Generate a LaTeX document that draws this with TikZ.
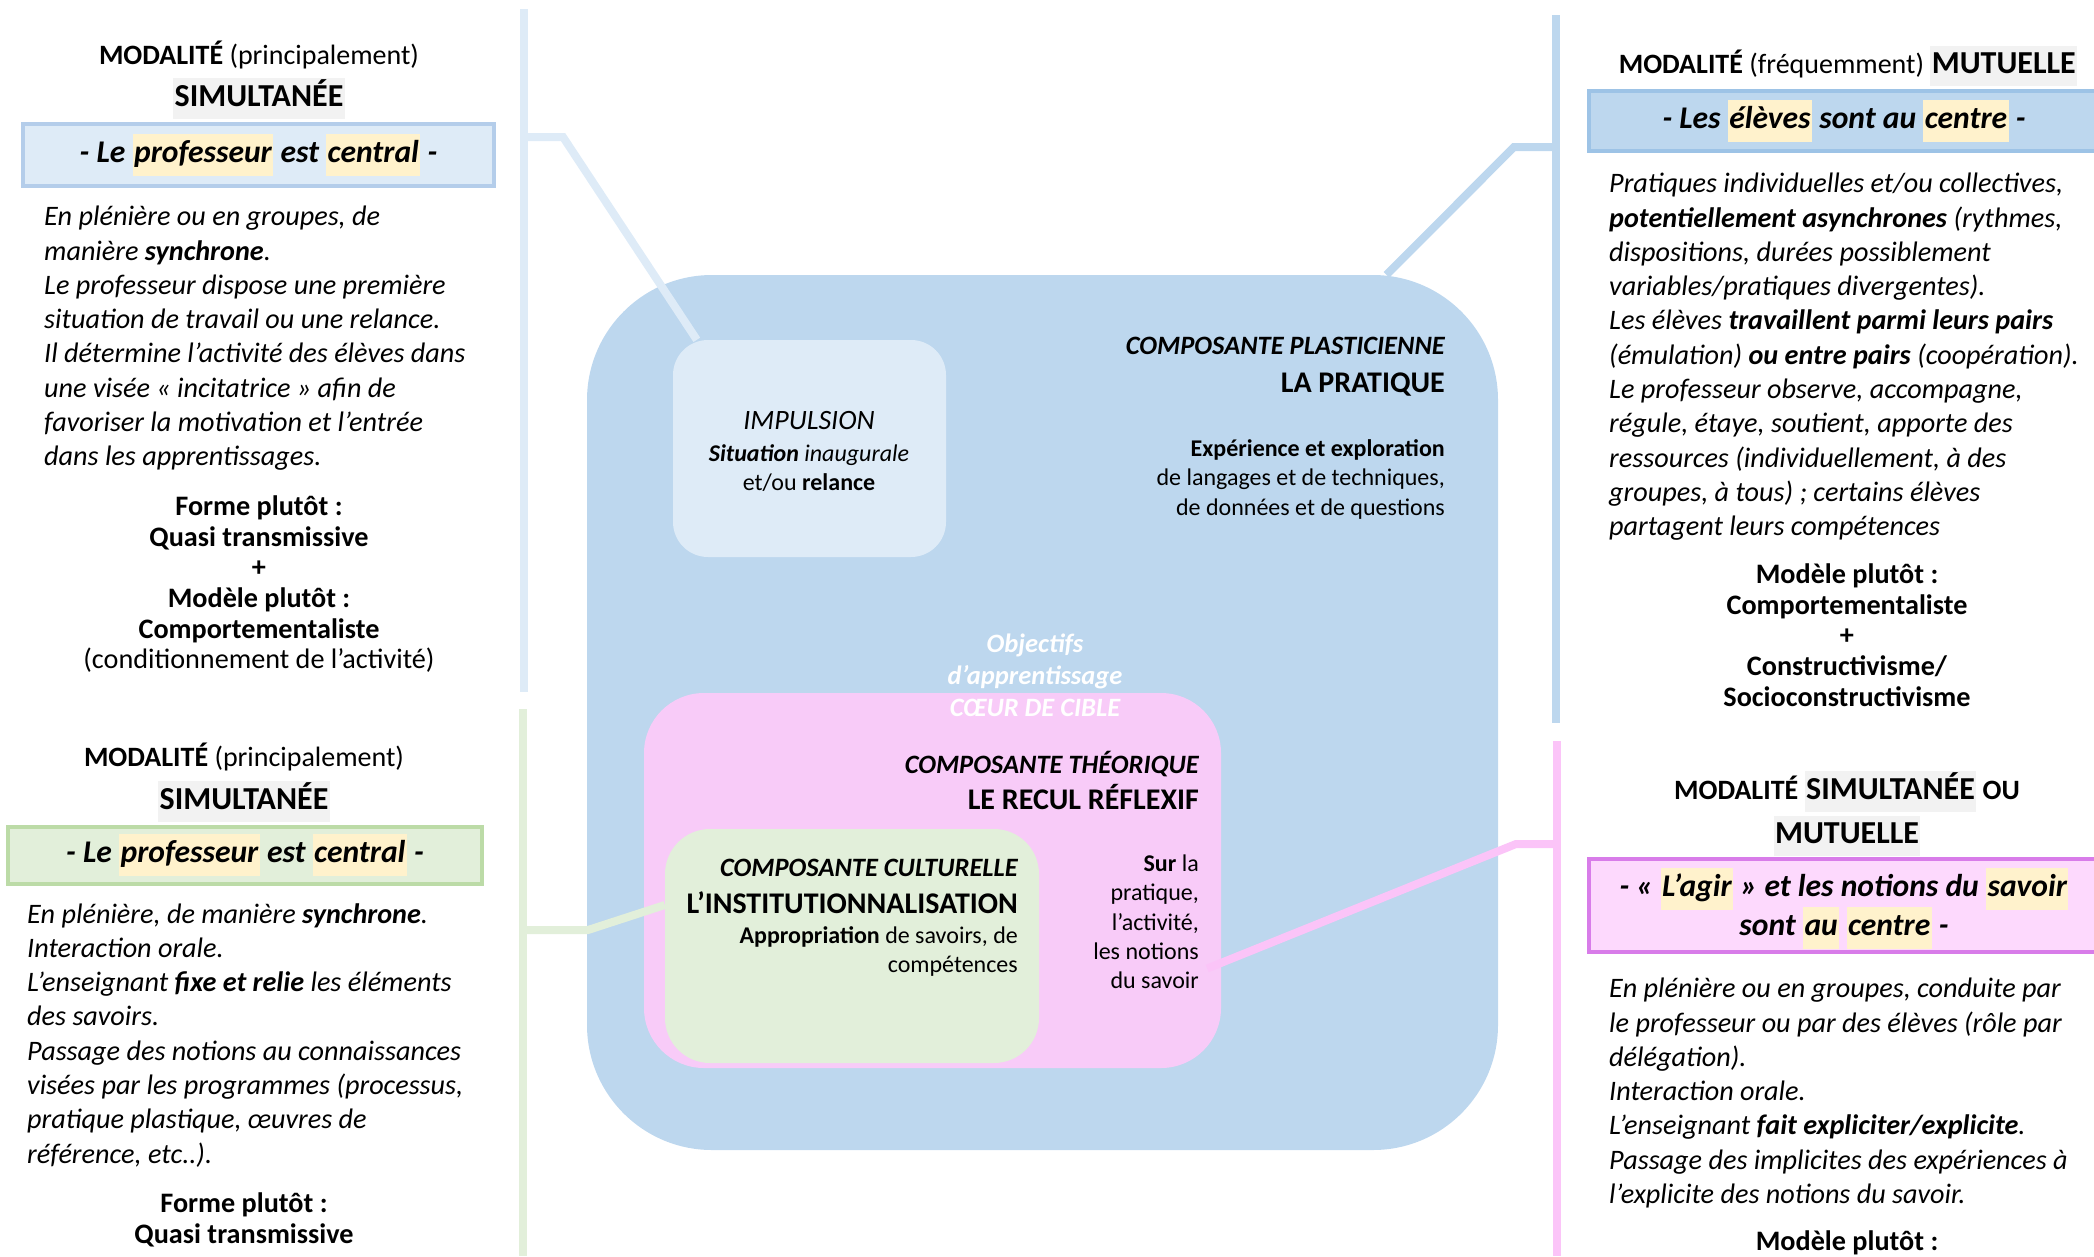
\documentclass[tikz,border=0pt]{standalone}
\usepackage{fontspec}
\setmainfont{Carlito}
\usepackage{xcolor}
\usetikzlibrary{positioning}

\definecolor{mainblue}{HTML}{BDD7EE}
\definecolor{paleblue}{HTML}{DEEBF7}
\definecolor{palegreen}{HTML}{E2EFDA}
\definecolor{pinkzone}{HTML}{F8CBF8}
\definecolor{pinkline}{HTML}{FBC4F8}
\definecolor{pinkbanner}{HTML}{FDD9FD}
\definecolor{violetline}{HTML}{D87CE9}
\definecolor{blueline}{HTML}{9DC3E6}
\definecolor{lightblueline}{HTML}{B4CDEA}
\definecolor{greenline}{HTML}{BCDBA7}
\definecolor{hlyellow}{HTML}{FFF2CC}
\definecolor{hlgray}{HTML}{F2F2F2}

\newcommand{\hly}[1]{{\setlength{\fboxsep}{1.5pt}\colorbox{hlyellow}{\strut #1}}}
\newcommand{\hlg}[1]{{\setlength{\fboxsep}{1.5pt}\colorbox{hlgray}{\strut #1}}}
\newcommand{\tightlines}{\lineskiplimit=-\maxdimen\relax}

\begin{document}
\begin{tikzpicture}[x=1pt, y=-1pt,
  rail/.style={line width=8pt},
  zone/.style={rectangle, inner sep=0pt},
  banner/.style={rectangle, inner sep=0pt, line width=4pt, align=center,
    font=\fontsize{31.6}{39}\selectfont\bfseries\itshape\tightlines},
  modehead/.style={inner sep=0pt, anchor=base, font=\fontsize{28}{33}\selectfont},
  modename/.style={inner sep=0pt, anchor=base, font=\fontsize{32}{37}\selectfont\bfseries},
  bodytext/.style={inner sep=0pt, anchor=north west, align=left,
    font=\fontsize{28.2}{34.3}\selectfont\itshape, execute at begin node=\strut},
  verdict/.style={inner sep=0pt, anchor=north, align=center,
    font=\fontsize{28.2}{30.7}\selectfont\bfseries, execute at begin node=\strut},
  comp/.style={inner sep=0pt, anchor=base east, font=\fontsize{26.5}{32}\selectfont\bfseries\itshape},
  compname/.style={inner sep=0pt, anchor=base east, font=\fontsize{30}{36}\selectfont\bfseries},
  detail/.style={inner sep=0pt, anchor=north east, align=right,
    font=\fontsize{24}{29.4}\selectfont, execute at begin node=\strut}]

\useasboundingbox (0,0) rectangle (2094,1256);

% zones du centre
\node[zone, fill=mainblue, minimum width=911, minimum height=875, rounded corners=125] (pratique) at (1042.5,712.5) {};
\node[zone, fill=paleblue, minimum width=273, minimum height=217, rounded corners=35] (impulsion) at (809.5,448.5) {};
\node[zone, fill=pinkzone, minimum width=577, minimum height=375, rounded corners=60] (theorie) at (932.5,880.5) {};
\node[zone, fill=palegreen, minimum width=374, minimum height=234, rounded corners=45] (culture) at (852,946) {};

% barres et liaisons
\coordinate (ltTop) at (524,9);
\coordinate (ltBottom) at (524,692);
\coordinate (ltFork) at (524,137);
\coordinate (ltElbow) at (563,137);
\coordinate (lbTop) at (523,709);
\coordinate (lbBottom) at (523,1256);
\coordinate (lbFork) at (523,930);
\coordinate (lbElbow) at (588,930);
\coordinate (rtTop) at (1556,15);
\coordinate (rtBottom) at (1556,723);
\coordinate (rtFork) at (1556,147);
\coordinate (rtElbow) at (1514,147);
\coordinate (rbTop) at (1557,741);
\coordinate (rbBottom) at (1557,1256);
\coordinate (rbFork) at (1557,844);
\coordinate (rbElbow) at (1516,844);

\draw[rail, paleblue] (ltTop) -- (ltBottom);
\draw[rail, paleblue] (ltFork) -- (ltElbow) -- ([xshift=24pt]impulsion.north west);
\draw[rail, palegreen] (lbTop) -- (lbBottom);
\draw[rail, palegreen] (lbFork) -- (lbElbow) -- ([yshift=41pt]culture.west);
\draw[rail, mainblue] (rtTop) -- (rtBottom);
\draw[rail, mainblue] (rtFork) -- (rtElbow) -- ([xshift=344pt]pratique.north);
\draw[rail, pinkline] (rbTop) -- (rbBottom);
\draw[rail, pinkline] (rbFork) -- (rbElbow) -- ([xshift=-14pt,yshift=-88pt]theorie.east);

% textes du centre
\node[inner sep=0pt, anchor=base, font=\fontsize{28}{34}\selectfont\itshape] (impTitle) at (809,429) {IMPULSION};
\node[detail, anchor=north, align=center] (impText) at (809,444) {\textbf{\textit{Situation}} \textit{inaugurale}\\ et/ou \textbf{relance}};
\node[comp] (plastTitle) at (1445,354) {COMPOSANTE PLASTICIENNE};
\node[compname] (plastName) at (1445,392) {LA PRATIQUE};
\node[detail] (plastText) at (1445,439.5) {\textbf{Expérience et exploration}\\ de langages et de techniques,\\ de données et de questions};
\node[inner sep=0pt, anchor=north, align=center, text=white, font=\fontsize{26.5}{32}\selectfont\bfseries\itshape, execute at begin node=\strut] (cible) at (1035,633.5) {Objectifs\\ d’apprentissage\\ CŒUR DE CIBLE};
\node[comp] (theoTitle) at (1199,773) {COMPOSANTE THÉORIQUE};
\node[compname] (theoName) at (1199,809) {LE RECUL RÉFLEXIF};
\node[detail] (theoText) at (1199,854.5) {\textbf{Sur} la\\ pratique,\\ l’activité,\\ les notions\\ du savoir};
\node[comp] (cultTitle) at (1018,876) {COMPOSANTE CULTURELLE};
\node[compname] (cultName) at (1018,913) {L’INSTITUTIONNALISATION};
\node[detail] (cultText) at (1018,926) {\textbf{Appropriation} de savoirs, de\\ compétences};

% colonne gauche, haut
\node[modehead] (ltHead) at (259,64) {\textbf{MODALITÉ} (principalement)};
\node[modename] (ltMode) at (259,106) {\hlg{SIMULTANÉE}};
\node[banner, fill=paleblue, draw=lightblueline, minimum width=471, minimum height=62] (ltBanner) at (258.5,155) {- Le \hly{professeur} est \hly{central} -};
\node[bodytext] (ltBody) at (44,206) {En plénière ou en groupes, de\\
manière \textbf{synchrone}.\\
Le professeur dispose une première\\
situation de travail ou une relance.\\
Il détermine l’activité des élèves dans\\
une visée « incitatrice » afin de\\
favoriser la motivation et l’entrée\\
dans les apprentissages.};
\node[verdict] (ltVerdict) at (259,495.5) {Forme plutôt :\\ Quasi transmissive\\ +\\ Modèle plutôt :\\ Comportementaliste\\ \mdseries(conditionnement de l’activité)};

% colonne gauche, bas
\node[modehead] (lbHead) at (244,766) {\textbf{MODALITÉ} (principalement)};
\node[modename] (lbMode) at (244,809) {\hlg{SIMULTANÉE}};
\node[banner, fill=palegreen, draw=greenline, minimum width=474, minimum height=57] (lbBanner) at (245,855) {- Le \hly{professeur} est \hly{central} -};
\node[bodytext] (lbBody) at (27,903) {En plénière, de manière \textbf{synchrone}.\\
Interaction orale.\\
L’enseignant \textbf{fixe et relie} les éléments\\
des savoirs.\\
Passage des notions au connaissances\\
visées par les programmes (processus,\\
pratique plastique, œuvres de\\
référence, etc..).};
\node[verdict] (lbVerdict) at (244,1192.5) {Forme plutôt :\\ Quasi transmissive};

% colonne droite, haut
\node[modehead] (rtHead) at (1848,73) {\textbf{MODALITÉ} (fréquemment) {\fontsize{32}{37}\selectfont\bfseries\hlg{MUTUELLE}}};
\node[banner, fill=mainblue, draw=blueline, minimum width=510, minimum height=60] (rtBanner) at (1844,121) {- Les \hly{élèves} sont au \hly{centre} -};
\node[bodytext] (rtBody) at (1609,173) {Pratiques individuelles et/ou collectives,\\
\textbf{potentiellement asynchrones} (rythmes,\\
dispositions, durées possiblement\\
variables/pratiques divergentes).\\
Les élèves \textbf{travaillent parmi leurs pairs}\\
(émulation) \textbf{ou entre pairs} (coopération).\\
Le professeur observe, accompagne,\\
régule, étaye, soutient, apporte des\\
ressources (individuellement, à des\\
groupes, à tous) ; certains élèves\\
partagent leurs compétences};
\node[verdict] (rtVerdict) at (1847,563.5) {Modèle plutôt :\\ Comportementaliste\\ +\\ Constructivisme/\\ Socioconstructivisme};

% colonne droite, bas
\node[modehead, font=\fontsize{28}{33}\selectfont\bfseries] (rbHead) at (1847,799) {MODALITÉ {\fontsize{32}{37}\selectfont\hlg{SIMULTANÉE}} OU};
\node[modename] (rbMode) at (1847,843) {\hlg{MUTUELLE}};
\node[banner, fill=pinkbanner, draw=violetline, minimum width=510, minimum height=93] (rbBanner) at (1844,905.5) {};
\node[inner sep=0pt, align=center, font=\fontsize{31.6}{39}\selectfont\bfseries\itshape\tightlines] (rbBannerText) at ([yshift=-3pt]rbBanner.center) {- « \hly{L’agir} » et les notions du \hly{savoir}\\ sont \hly{au} \hly{centre} -};
\node[bodytext] (rbBody) at (1609,978) {En plénière ou en groupes, conduite par\\
le professeur ou par des élèves (rôle par\\
délégation).\\
Interaction orale.\\
L’enseignant \textbf{fait expliciter/explicite}.\\
Passage des implicites des expériences à\\
l’explicite des notions du savoir.};
\node[modehead, font=\fontsize{28.2}{33}\selectfont\bfseries] (rbVerdict) at (1847,1250) {Modèle plutôt :};

\end{tikzpicture}
\end{document}
